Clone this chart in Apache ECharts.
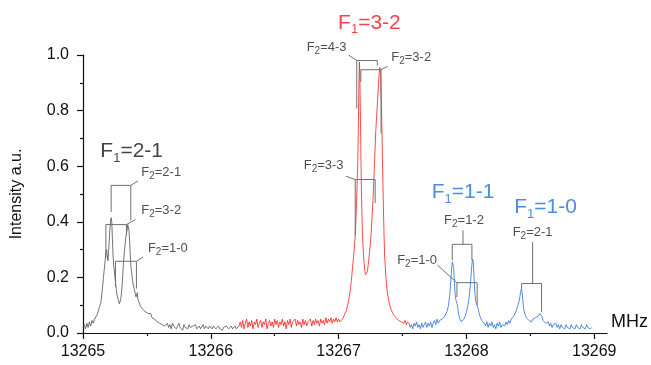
<!DOCTYPE html>
<html>
<head>
<meta charset="utf-8">
<title>spectrum</title>
<script src="https://cdn.jsdelivr.net/npm/echarts@6/dist/echarts.min.js"></script>
<style>
  html, body { margin: 0; padding: 0; background: #fff; }
  #chart { width: 651px; height: 365px; }
</style>
</head>
<body>
<div id="chart"></div>
<script>
// axis ticks
var xTicks = [13265, 13266, 13267, 13268, 13269];
var xMinorTicks = [13265.5, 13266.5, 13267.5, 13268.5];

// spectrum, [MHz, intensity a.u.]
var grayTrace = [
  [13265.00,.02],[13265.01,.03],[13265.02,.015],[13265.03,.035],[13265.04,.02],[13265.05,.04],[13265.06,.025],[13265.07,.045],
  [13265.08,.035],[13265.09,.05],[13265.10,.045],[13265.11,.065],[13265.12,.07],[13265.13,.095],[13265.14,.11],[13265.15,.15],
  [13265.16,.2],[13265.17,.245],[13265.175,.27],[13265.18,.29],[13265.185,.30],[13265.19,.28],[13265.195,.26],[13265.20,.29],
  [13265.205,.33],[13265.21,.37],[13265.215,.40],[13265.22,.415],[13265.225,.40],[13265.23,.34],[13265.235,.28],[13265.24,.24],
  [13265.245,.225],[13265.25,.2],[13265.255,.18],[13265.26,.16],[13265.265,.14],[13265.27,.13],[13265.275,.12],[13265.28,.115],
  [13265.285,.105],[13265.29,.11],[13265.295,.12],[13265.30,.14],[13265.305,.165],[13265.31,.2],[13265.315,.24],[13265.32,.27],
  [13265.325,.30],[13265.33,.32],[13265.335,.345],[13265.34,.35],[13265.345,.37],[13265.35,.39],[13265.355,.395],[13265.36,.37],
  [13265.365,.33],[13265.37,.28],[13265.375,.24],[13265.38,.22],[13265.385,.2],[13265.39,.18],[13265.395,.175],[13265.40,.16],
  [13265.405,.165],[13265.41,.14],[13265.415,.13],[13265.42,.135],[13265.425,.145],[13265.43,.12],[13265.44,.11],[13265.45,.095],
  [13265.46,.1],[13265.47,.085],[13265.48,.09],[13265.49,.075],[13265.50,.08],[13265.51,.07],[13265.52,.065],[13265.53,.07],
  [13265.54,.055],[13265.55,.06],[13265.56,.05],[13265.57,.055],[13265.58,.04],[13265.59,.045],[13265.60,.035],[13265.61,.04],
  [13265.62,.03],[13265.63,.035],[13265.64,.025],[13265.65,.03],[13265.66,.035],[13265.67,.02],[13265.68,.03],[13265.69,.015],
  [13265.70,.035],[13265.71,.025],[13265.72,.03],[13265.73,.015],[13265.74,.025],[13265.75,.035],[13265.76,.02],[13265.77,.025],
  [13265.78,.01],[13265.79,.03],[13265.80,.02],[13265.81,.025],[13265.82,.015],[13265.83,.03],[13265.84,.02],[13265.85,.015],
  [13265.86,.025],[13265.87,.02],[13265.88,.03],[13265.89,.015],[13265.90,.02],[13265.91,.025],[13265.92,.015],[13265.93,.02],
  [13265.94,.03],[13265.95,.015],[13265.96,.025],[13265.97,.02],[13265.98,.015],[13265.99,.025],[13266.00,.02],[13266.01,.015],
  [13266.02,.025],[13266.03,.02],[13266.04,.015],[13266.05,.02],[13266.06,.025],[13266.07,.015],[13266.08,.02],[13266.09,.01],
  [13266.10,.02],[13266.11,.015],[13266.12,.025],[13266.13,.02],[13266.14,.015],[13266.15,.02],[13266.16,.025],[13266.17,.015],
  [13266.18,.02],[13266.19,.025],[13266.20,.015],[13266.21,.02],[13266.22,.025]
];

var redTrace = [
  [13266.22,.025],[13266.23,.04],[13266.24,.02],[13266.25,.045],[13266.26,.015],[13266.27,.035],[13266.28,.05],[13266.29,.02],
  [13266.30,.04],[13266.31,.025],[13266.32,.045],[13266.33,.015],[13266.34,.04],[13266.35,.03],[13266.36,.05],[13266.37,.02],
  [13266.38,.035],[13266.39,.045],[13266.40,.02],[13266.41,.04],[13266.42,.03],[13266.43,.05],[13266.44,.015],[13266.45,.035],
  [13266.46,.045],[13266.47,.025],[13266.48,.04],[13266.49,.02],[13266.50,.05],[13266.51,.03],[13266.52,.045],[13266.53,.02],
  [13266.54,.04],[13266.55,.03],[13266.56,.05],[13266.57,.025],[13266.58,.04],[13266.59,.015],[13266.60,.045],[13266.61,.03],
  [13266.62,.05],[13266.63,.02],[13266.64,.04],[13266.65,.035],[13266.66,.05],[13266.67,.025],[13266.68,.045],[13266.69,.03],
  [13266.70,.04],[13266.71,.02],[13266.72,.05],[13266.73,.03],[13266.74,.045],[13266.75,.025],[13266.76,.04],[13266.77,.035],
  [13266.78,.05],[13266.79,.025],[13266.80,.045],[13266.81,.03],[13266.82,.05],[13266.83,.035],[13266.84,.045],[13266.85,.025],
  [13266.86,.05],[13266.87,.035],[13266.88,.045],[13266.89,.03],[13266.90,.055],[13266.91,.035],[13266.92,.05],[13266.93,.04],
  [13266.94,.055],[13266.95,.035],[13266.96,.05],[13266.97,.04],[13266.98,.055],[13266.99,.04],[13267.00,.05],[13267.01,.04],
  [13267.02,.045],[13267.03,.05],[13267.04,.055],[13267.05,.07],[13267.06,.08],[13267.07,.1],[13267.08,.12],[13267.09,.15],
  [13267.10,.19],[13267.11,.24],[13267.12,.29],[13267.13,.35],[13267.14,.46],[13267.15,.62],[13267.155,.76],[13267.16,.92],
  [13267.163,.975],[13267.166,.93],[13267.17,.8],[13267.175,.62],[13267.18,.48],[13267.185,.38],[13267.19,.32],[13267.195,.28],
  [13267.20,.25],[13267.205,.225],[13267.21,.21],[13267.215,.205],[13267.22,.21],[13267.225,.22],[13267.23,.24],[13267.24,.28],
  [13267.25,.33],[13267.26,.4],[13267.27,.49],[13267.28,.6],[13267.29,.72],[13267.30,.8],[13267.31,.88],[13267.318,.94],
  [13267.323,.955],[13267.328,.93],[13267.335,.82],[13267.34,.7],[13267.345,.58],[13267.35,.46],[13267.355,.36],[13267.36,.28],
  [13267.37,.2],[13267.38,.15],[13267.39,.12],[13267.40,.1],[13267.41,.085],[13267.42,.075],[13267.43,.065],[13267.44,.06],
  [13267.45,.055],[13267.46,.05],[13267.47,.045],[13267.48,.05],[13267.49,.04],[13267.50,.045],[13267.51,.035],[13267.52,.045],
  [13267.53,.03],[13267.54,.04],[13267.55,.035]
];

var blueTrace = [
  [13267.55,.035],[13267.56,.02],[13267.57,.03],[13267.58,.015],[13267.59,.035],[13267.60,.025],[13267.61,.04],[13267.62,.02],
  [13267.63,.03],[13267.64,.015],[13267.65,.035],[13267.66,.02],[13267.67,.03],[13267.68,.04],[13267.69,.02],[13267.70,.035],
  [13267.71,.025],[13267.72,.04],[13267.73,.02],[13267.74,.035],[13267.75,.045],[13267.76,.03],[13267.77,.05],[13267.78,.035],
  [13267.79,.045],[13267.80,.04],[13267.81,.05],[13267.82,.045],[13267.83,.06],[13267.84,.07],[13267.85,.08],[13267.86,.1],
  [13267.87,.14],[13267.88,.2],[13267.885,.235],[13267.89,.255],[13267.895,.262],[13267.90,.235],[13267.905,.195],[13267.91,.15],
  [13267.915,.125],[13267.92,.115],[13267.925,.118],[13267.93,.1],[13267.935,.08],[13267.94,.065],[13267.95,.05],[13267.96,.04],
  [13267.97,.045],[13267.98,.05],[13267.99,.06],[13268.00,.075],[13268.01,.095],[13268.02,.125],[13268.03,.17],[13268.035,.2],
  [13268.04,.23],[13268.045,.255],[13268.05,.265],[13268.055,.245],[13268.06,.2],[13268.065,.15],[13268.07,.125],[13268.075,.11],
  [13268.08,.115],[13268.085,.11],[13268.09,.09],[13268.10,.07],[13268.11,.055],[13268.12,.045],[13268.13,.04],[13268.14,.035],
  [13268.15,.025],[13268.16,.04],[13268.17,.02],[13268.18,.035],[13268.19,.025],[13268.20,.04],[13268.21,.02],[13268.22,.03],
  [13268.23,.015],[13268.24,.035],[13268.25,.025],[13268.26,.04],[13268.27,.02],[13268.28,.03],[13268.29,.035],[13268.30,.025],
  [13268.31,.04],[13268.32,.03],[13268.33,.045],[13268.34,.035],[13268.35,.05],[13268.36,.045],[13268.37,.06],[13268.38,.065],
  [13268.39,.08],[13268.40,.095],[13268.41,.11],[13268.42,.135],[13268.425,.15],[13268.43,.16],[13268.435,.15],[13268.44,.125],
  [13268.445,.1],[13268.45,.08],[13268.46,.065],[13268.47,.055],[13268.48,.05],[13268.49,.045],[13268.50,.05],[13268.51,.04],
  [13268.52,.05],[13268.53,.045],[13268.54,.055],[13268.55,.05],[13268.56,.06],[13268.57,.065],[13268.575,.07],[13268.58,.075],
  [13268.585,.072],[13268.59,.06],[13268.60,.045],[13268.61,.04],[13268.62,.035],[13268.63,.03],[13268.64,.04],[13268.65,.025],
  [13268.66,.035],[13268.67,.02],[13268.68,.03],[13268.69,.025],[13268.70,.035],[13268.71,.02],[13268.72,.03],[13268.73,.015],
  [13268.74,.03],[13268.75,.02],[13268.76,.025],[13268.77,.015],[13268.78,.03],[13268.79,.02],[13268.80,.025],[13268.81,.015],
  [13268.82,.03],[13268.83,.02],[13268.84,.025],[13268.85,.015],[13268.86,.03],[13268.87,.02],[13268.88,.025],[13268.89,.015],
  [13268.90,.03],[13268.91,.02],[13268.92,.025],[13268.93,.015],[13268.94,.03],[13268.95,.02],[13268.96,.025],[13268.97,.015],
  [13268.98,.02]
];

// hyperfine brackets: [left MHz, right MHz, top, left leg end, right leg end]
var brackets = [
  [13265.220, 13265.374, 0.531, 0.435, 0.405],
  [13265.179, 13265.340, 0.390, 0.268, 0.351],
  [13265.254, 13265.418, 0.258, 0.165, 0.160],
  [13267.142, 13267.303, 0.980, 0.808, 0.963],
  [13267.174, 13267.332, 0.947, 0.903, 0.718],
  [13267.130, 13267.286, 0.552, 0.351, 0.467],
  [13267.889, 13268.043, 0.319, 0.261, 0.261],
  [13267.926, 13268.084, 0.181, 0.129, 0.100],
  [13268.432, 13268.588, 0.178, 0.160, 0.076]
];
// short leader lines from label to bracket
var leaders = [
  [[13265.374, 0.531], [13265.430, 0.547]],
  [[13265.340, 0.390], [13265.410, 0.408]],
  [[13265.418, 0.258], [13265.469, 0.273]],
  [[13267.078, 1.000], [13267.142, 0.980]],
  [[13267.332, 0.947], [13267.384, 0.959]],
  [[13267.057, 0.564], [13267.130, 0.552]],
  [[13267.973, 0.369], [13267.973, 0.319]],
  [[13267.773, 0.244], [13267.926, 0.181]],
  [[13268.518, 0.327], [13268.518, 0.178]]
];
// F1 labels: [MHz, intensity, text]
var f1Labels = [
  [13265.381, 0.654, '2-1'],
  [13267.241, 1.116, '3-2'],
  [13267.973, 0.506, '1-1'],
  [13268.619, 0.453, '1-0']
];
var f1Colors = ['#111111', '#f0141e', '#1f6fd8', '#1f6fd8'];
// F2 labels: [MHz, intensity, text, anchor]
var f2Labels = [
  [13265.456, 0.578, '2-1', 'left'],
  [13265.456, 0.440, '3-2', 'left'],
  [13265.508, 0.305, '1-0', 'left'],
  [13267.062, 1.029, '4-3', 'right'],
  [13267.412, 0.993, '3-2', 'left'],
  [13267.039, 0.603, '3-3', 'right'],
  [13267.981, 0.405, '1-2', 'center'],
  [13267.770, 0.261, '1-0', 'right'],
  [13268.518, 0.362, '2-1', 'center']
];

var font = 'Liberation Sans, Arial, sans-serif';
var bracketColor = '#707070';

var myChart = echarts.init(document.getElementById('chart'), null, { renderer: 'canvas' });

function traceSeries(data, color) {
  return {
    type: 'line',
    data: data,
    showSymbol: false,
    symbol: 'none',
    lineStyle: { color: color, width: 0.8 },
    z: 2
  };
}

var seriesArr = [
  traceSeries(grayTrace, '#505050'),
  traceSeries(redTrace, '#ff1a1a'),
  traceSeries(blueTrace, '#2a6fdb')
];

brackets.forEach(function (b) {
  seriesArr.push({
    type: 'line',
    data: [[b[0], b[3]], [b[0], b[2]], [b[1], b[2]], [b[1], b[4]]],
    showSymbol: false,
    symbol: 'none',
    lineStyle: { color: bracketColor, width: 1 },
    z: 3
  });
});
leaders.forEach(function (l) {
  seriesArr.push({
    type: 'line',
    data: l,
    showSymbol: false,
    symbol: 'none',
    lineStyle: { color: bracketColor, width: 1 },
    z: 3
  });
});

// F1 labels (big, coloured); subscript pushed down with top padding
seriesArr.push({
  type: 'scatter',
  symbolSize: 0,
  clip: false,
  z: 5,
  data: f1Labels.map(function (d, i) {
    return {
      value: [d[0], d[1]],
      label: {
        show: true,
        position: 'inside',
        align: 'center',
        verticalAlign: 'middle',
        formatter: '{t|F}{s|1}{t|=' + d[2] + '}',
        rich: {
          t: { fontSize: 21, fontFamily: font, color: f1Colors[i], lineHeight: 22 },
          s: { fontSize: 13, fontFamily: font, color: f1Colors[i], lineHeight: 13, padding: [14, 0, 0, 0] }
        }
      }
    };
  })
});

// F2 labels (small)
seriesArr.push({
  type: 'scatter',
  symbolSize: 0,
  clip: false,
  z: 5,
  data: f2Labels.map(function (d) {
    return {
      value: [d[0], d[1]],
      label: {
        show: true,
        position: 'inside',
        align: d[3],
        verticalAlign: 'middle',
        formatter: '{t|F}{s|2}{t|=' + d[2] + '}',
        rich: {
          t: { fontSize: 13, fontFamily: font, color: '#222', lineHeight: 13 },
          s: { fontSize: 10, fontFamily: font, color: '#222', lineHeight: 10, padding: [8, 0, 0, 0] }
        }
      }
    };
  })
});

myChart.setOption({
  animation: false,
  backgroundColor: '#fff',
  grid: { left: 83, right: 41, top: 55, bottom: 32 },
  xAxis: [
    {
      type: 'value',
      position: 'bottom',
      min: 13265,
      max: 13269.1,
      name: 'MHz',
      nameLocation: 'end',
      nameGap: 4,
      nameTextStyle: { fontSize: 18, fontFamily: font, color: '#111', verticalAlign: 'bottom', padding: [0, 0, 2, 0] },
      axisLine: { show: true, lineStyle: { color: '#111', width: 1.2 } },
      axisTick: { show: true, inside: false, length: 6, customValues: xTicks, lineStyle: { color: '#111', width: 1.2 } },
      axisLabel: {
        customValues: xTicks,
        fontSize: 16,
        fontFamily: font,
        color: '#111',
        margin: 11,
        formatter: function (v) { return String(v); }
      },
      splitLine: { show: false }
    },
    {
      type: 'value',
      position: 'bottom',
      min: 13265,
      max: 13269.1,
      axisLine: { show: false },
      axisTick: { show: true, inside: false, length: 3, customValues: xMinorTicks, lineStyle: { color: '#111', width: 1.2 } },
      axisLabel: { show: false },
      splitLine: { show: false }
    }
  ],
  yAxis: {
    type: 'value',
    min: 0,
    max: 1,
    interval: 0.2,
    name: 'Intensity a.u.',
    nameLocation: 'middle',
    nameGap: 58,
    nameTextStyle: { fontSize: 16, fontFamily: font, color: '#111' },
    axisLine: { show: true, lineStyle: { color: '#111', width: 1.2 } },
    axisTick: { show: true, inside: false, length: 6, lineStyle: { color: '#111', width: 1.2 } },
    minorTick: { show: true, splitNumber: 2, length: 3, lineStyle: { color: '#111', width: 1.2 } },
    axisLabel: {
      fontSize: 16,
      fontFamily: font,
      color: '#111',
      margin: 14,
      formatter: function (v) { return v.toFixed(1); }
    },
    splitLine: { show: false },
    minorSplitLine: { show: false }
  },
  series: seriesArr
});
</script>
</body>
</html>
